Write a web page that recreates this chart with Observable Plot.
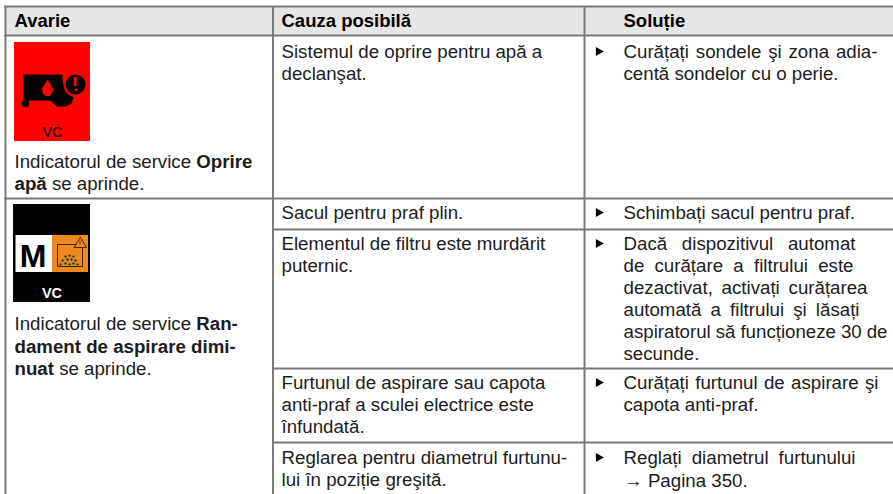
<!DOCTYPE html>
<html><head><meta charset="utf-8">
<script src="https://cdn.jsdelivr.net/npm/d3@7"></script>
<script src="https://cdn.jsdelivr.net/npm/@observablehq/plot@0.6"></script>
<style>html,body{margin:0;padding:0;background:#fff}svg{display:block}</style>
</head><body><div id="c"></div>
<script>
const headers = ["Avarie", "Cauza posibilă", "Soluție"];
const faultLines = [
  "Indicatorul de service **Oprire**", "**apă** se aprinde.",
  "Indicatorul de service **Ran-**", "**dament de aspirare dimi-**", "**nuat** se aprinde."
];
const causeLines = [
  "Sistemul de oprire pentru apă a", "declanşat.",
  "Sacul pentru praf plin.",
  "Elementul de filtru este murdărit", "puternic.",
  "Furtunul de aspirare sau capota", "anti-praf a sculei electrice este", "înfundată.",
  "Reglarea pentru diametrul furtunu-", "lui în poziție greşită."
];
const solutionLines = [
  "Curățați sondele şi zona adia-", "centă sondelor cu o perie.",
  "Schimbați sacul pentru praf.",
  "Dacă dispozitivul automat", "de curățare a filtrului este", "dezactivat, activați curățarea",
  "automată a filtrului şi lăsați", "aspiratorul să funcționeze 30 de", "secunde.",
  "Curățați furtunul de aspirare şi", "capota anti-praf.",
  "Reglați diametrul furtunului", "→ Pagina 350."
];
const iconLabels = ["VC", "M"];

// layout
const W = 893, H = 494;
const colEdges = [5, 272.5, 584, 893];
const textX = [14, 281, 623];
const headY = [6, 35];
const rowAll = [198];
const rowRight = [229, 368, 442];
const headBase = 26;
const faultBase = [167, 189, 329, 352, 374];
const causeBase = [57, 79, 218, 249, 271, 388, 410, 432, 463, 485];
const solBase = [57, 79, 218, 249, 271, 293, 315, 337, 359, 388, 410, 463, 486];
const solBulletBase = [57, 218, 249, 388, 463];
const solRight = [877, null, null, 855, 853, 867, 859, 887, null, 878, null, 855, null];
const solX = solutionLines.map((d, i) => d.startsWith("→") ? 623.5 : textX[2]);

// icons
const pumpBody = [[23,74],[62,74],[62,80],[66,92],[73,97],[71,103],[65,106],[56,106],[50,100],[27,100],[23,100]];
const dropShape = [[47,79],[50,84],[52.5,88],[52,92],[49.5,95.5],[44.5,95.5],[42,92],[41.5,88],[44,84]];
const warnTri = [[80,237],[86,247],[74,247]];
const pile = [[59,265],[62,258],[65,255],[71,255],[75,258],[79,265]];
const dust = [[65,256],[69,255],[73,256],[62,260],[67,259],[71,259],[75,260],[60,264],[65,263],[69,264],[73,263],[77,264]];

const ink = "#1c1c1c", grid = "#7a7a7a";
const font = "'Liberation Sans', Arial, sans-serif";
const fs = 18.7;

const textOpts = {textAnchor: "start", lineAnchor: "bottom", fontFamily: font, fontSize: fs, fill: ink};
const lineData = (arr, xs, ys, extra = {}) => arr.map((t, i) => ({t, x: Array.isArray(xs) ? xs[i] : xs, y: ys[i], ...extra}));
const poly = (pts, o) => Plot.line(pts, {x: d => d[0], y: d => d[1], curve: "linear-closed", ...o});

const plot = Plot.plot({
  width: W, height: H, margin: 0,
  x: {domain: [0, W], range: [0, W], axis: null},
  y: {domain: [0, H], range: [0, H], axis: null},
  style: {background: "#fff"},
  marks: [
    Plot.rect([0], {x1: colEdges[0], x2: colEdges[3], y1: headY[0], y2: headY[1], fill: "#e6e6e6"}),
    // grid
    Plot.ruleX(colEdges.slice(0, 3), {y1: headY[0], y2: H, stroke: grid, strokeWidth: 2}),
    Plot.ruleY([...headY, ...rowAll], {x1: colEdges[0] - 1, x2: W, stroke: grid, strokeWidth: 2}),
    Plot.ruleY(rowRight, {x1: colEdges[1], x2: W, stroke: grid, strokeWidth: 2}),
    // red icon
    Plot.rect([0], {x1: 14, x2: 90, y1: 42, y2: 141, fill: "#fe0000"}),
    poly(pumpBody, {fill: "#000", stroke: "none"}),
    Plot.dot([[25, 103]], {x: d => d[0], y: d => d[1], r: 3.7, fill: "#000"}),
    poly(dropShape, {fill: "#fe0000", stroke: "none"}),
    Plot.dot([[75, 84]], {x: d => d[0], y: d => d[1], r: 12, fill: "#fe0000"}),
    Plot.dot([[75, 84]], {x: d => d[0], y: d => d[1], r: 10, fill: "#000"}),
    Plot.rect([0], {x1: 73.8, x2: 76.6, y1: 77, y2: 86, fill: "#fe0000"}),
    Plot.dot([[75.2, 89.2]], {x: d => d[0], y: d => d[1], r: 1.5, fill: "#fe0000"}),
    Plot.text([iconLabels[0]], {x: 52, y: 136, text: d => d, textAnchor: "middle", lineAnchor: "bottom", fontFamily: font, fontSize: 14.5, fill: "#000"}),
    // black icon
    Plot.rect([0], {x1: 13, x2: 90, y1: 204, y2: 302, fill: "#000"}),
    Plot.rect([0], {x1: 15.5, x2: 52, y1: 235, y2: 272, fill: "#fff"}),
    Plot.rect([0], {x1: 52, x2: 88, y1: 235, y2: 272, fill: "#ee8a1d"}),
    Plot.text([iconLabels[1]], {x: 32.5, y: 266, text: d => d, textAnchor: "middle", lineAnchor: "bottom", fontFamily: font, fontWeight: 700, fontSize: 32, fill: "#000"}),
    Plot.line([[79,244],[57,244],[57,266],[82,266],[82,247]], {x: d => d[0], y: d => d[1], stroke: "#3a2410", strokeWidth: 1}),
    poly(pile, {fill: "#c98a3a", stroke: "none"}),
    Plot.dot(dust, {x: d => d[0], y: d => d[1], r: 1.1, fill: "#2a1a08"}),
    poly(warnTri, {fill: "#ee8a1d", stroke: "#3a2410", strokeWidth: 0.9}),
    Plot.rect([0], {x1: 79.6, x2: 80.4, y1: 240.5, y2: 244.5, fill: "#3a2410"}),
    Plot.text([iconLabels[0]], {x: 51.5, y: 297, text: d => d, textAnchor: "middle", lineAnchor: "bottom", fontFamily: font, fontWeight: 700, fontSize: 14.5, fill: "#fff"}),
    // headers
    Plot.text(lineData(headers, textX, headers.map(() => headBase)), {x: "x", y: "y", text: "t", ...textOpts, fontSize: 18.5, fontWeight: 700, fill: "#000", className: "hdr"}),
    // body
    Plot.text(lineData(faultLines, textX[0], faultBase), {x: "x", y: "y", text: "t", ...textOpts}),
    Plot.text(lineData(causeLines, textX[1], causeBase), {x: "x", y: "y", text: "t", ...textOpts}),
    Plot.text(lineData(solutionLines, solX, solBase), {x: "x", y: "y", text: "t", ...textOpts, className: "sol"}),
    // bullets
    Plot.dot(solBulletBase, {x: 598, y: d => d - 6, symbol: "triangle", rotate: 90, r: 3.4, fill: "#000"})
  ]
});
document.getElementById("c").append(plot);

// bold runs
d3.select(plot).selectAll("text").each(function () {
  const holder = this.querySelector("tspan") || this;
  const s = this.textContent;
  if (!s.includes("**")) return;
  holder.textContent = "";
  s.split("**").forEach((part, i) => {
    if (!part) return;
    const t = document.createElementNS("http://www.w3.org/2000/svg", "tspan");
    t.textContent = part;
    if (i % 2) t.setAttribute("font-weight", "700");
    holder.append(t);
  });
});
// justified lines in the solution column
d3.select(plot).selectAll("g.sol text").each(function (_, i) {
  const right = solRight[i];
  if (right == null) return;
  const gaps = this.textContent.split(" ").length - 1;
  const extra = (right - solX[i] - this.getComputedTextLength()) / gaps;
  this.style.wordSpacing = extra + "px";
});
</script></body></html>
